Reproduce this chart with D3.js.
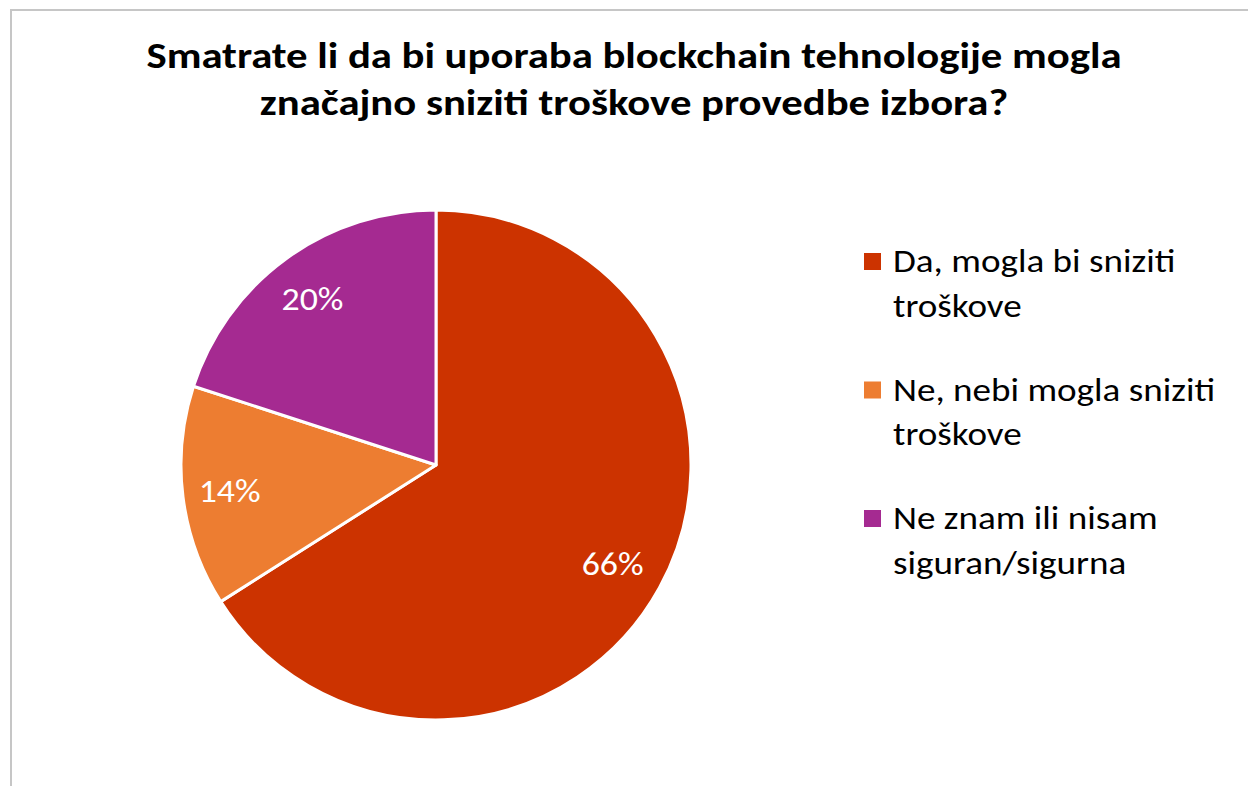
<!DOCTYPE html>
<html>
<head>
<meta charset="utf-8">
<script src="https://cdn.jsdelivr.net/npm/d3@7"></script>
<style>
  body { margin: 0; background: #fff; }
  svg { display: block; font-family: Carlito, Lato, "Open Sans", sans-serif; }
</style>
</head>
<body>
<script>
var titleLines = ["Smatrate li da bi uporaba blockchain tehnologije mogla", "značajno sniziti troškove provedbe izbora?"]
var categories = ["Da, mogla bi sniziti troškove", "Ne, nebi mogla sniziti troškove", "Ne znam ili nisam siguran/sigurna"]
var legendLines = [["Da, mogla bi sniziti", "troškove"], ["Ne, nebi mogla sniziti", "troškove"], ["Ne znam ili nisam", "siguran/sigurna"]]
var values = [66, 14, 20]
var colors = ["#cc3300", "#ed7d31", "#a52a91"]

var width = 1248, height = 786
var cx = 436, cy = 465, radius = 255

var svg = d3.select("body").append("svg")
    .attr("width", width)
    .attr("height", height)

// chart frame (cut off at right and bottom)
svg.append("rect")
    .attr("x", 11).attr("y", 10)
    .attr("width", 1400).attr("height", 1000)
    .style("fill", "#fff")
    .style("stroke", "#c6c6c6")
    .style("stroke-width", 2)

// title - glyphs a bit wider than Lato, so stretch horizontally
svg.append("g").selectAll("g")
    .data(titleLines)
    .enter().append("g")
    .attr("transform", function(d, i) { return "translate(634," + (68 + i * 47) + ") scale(1.2,1)" })
    .append("text")
    .attr("text-anchor", "middle")
    .style("font-size", "35.6px")
    .style("font-weight", "bold")
    .style("fill", "#000")
    .text(function(d) { return d })

var pie = d3.pie().sort(null).value(function(d) { return d })
var arcs = pie(values)
var arc = d3.arc().innerRadius(0).outerRadius(radius)
var labelArc = d3.arc().innerRadius(205).outerRadius(205)

var g = svg.append("g").attr("transform", "translate(" + cx + "," + cy + ")")

g.selectAll("path")
    .data(arcs)
    .enter().append("path")
    .attr("d", arc)
    .style("fill", function(d, i) { return colors[i] })
    .style("stroke", "#fff")
    .style("stroke-width", 3)
    .style("stroke-linejoin", "round")

g.selectAll("g.label")
    .data(arcs)
    .enter().append("g")
    .classed("label", true)
    .attr("transform", function(d) {
      var c = labelArc.centroid(d)
      return "translate(" + (c[0] - 3) + "," + c[1] + ") scale(1.12,1)"
    })
    .append("text")
    .attr("text-anchor", "middle")
    .attr("dy", "0.35em")
    .style("font-size", "32px")
    .style("fill", "#fff")
    .text(function(d) { return d.value + "%" })

// legend
var legend = svg.append("g").selectAll("g")
    .data(categories)
    .enter().append("g")
    .attr("transform", function(d, i) { return "translate(864," + (272 + i * 128.5) + ")" })

legend.append("rect")
    .attr("y", -19)
    .attr("width", 17).attr("height", 17)
    .style("fill", function(d, i) { return colors[i] })

legend.append("g")
    .attr("transform", "translate(29,0) scale(1.16,1)")
    .append("text")
    .style("font-size", "32px")
    .style("fill", "#000")
    .selectAll("tspan")
    .data(function(d, i) { return legendLines[i] })
    .enter().append("tspan")
    .attr("x", 0)
    .attr("y", function(d, j) { return j * 45 })
    .text(function(d) { return d })
</script>
</body>
</html>
